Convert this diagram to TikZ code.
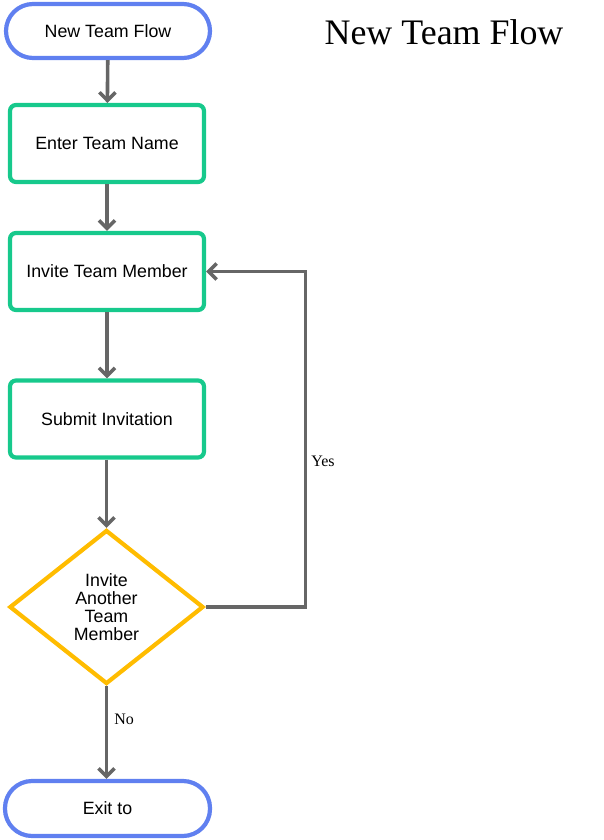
\documentclass[tikz,border=0pt]{standalone}
\usepackage{fontspec}
\setmainfont{Liberation Sans}
\newfontfamily\serifx{Liberation Serif}
\usetikzlibrary{shapes.geometric,arrows.meta}
\definecolor{termblue}{HTML}{6080F0}
\definecolor{procgreen}{HTML}{17C98C}
\definecolor{decyellow}{HTML}{FFBC00}
\definecolor{arrgray}{HTML}{666666}
\tikzset{
  term/.style={draw=termblue, line width=4.2pt, rectangle, rounded corners=27pt, minimum width=204pt, minimum height=54pt, inner sep=0pt, font=\fontsize{17.8}{20}\selectfont, fill=white},
  proc/.style={draw=procgreen, line width=4.2pt, rectangle, rounded corners=6pt, minimum width=194pt, minimum height=77pt, inner sep=0pt, font=\fontsize{17.8}{20}\selectfont},
  dec/.style={draw=decyellow, line width=4.2pt, diamond, minimum width=194pt, minimum height=154pt, inner sep=0pt, align=center, font=\fontsize{17.8}{18}\selectfont},
  arr/.style={draw=arrgray, line width=3.6pt, -{Straight Barb[length=8pt,width=16pt,line width=3.6pt]}},
  lbl/.style={font=\serifx\fontsize{16}{18}\selectfont, inner sep=2pt},
}
\begin{document}
\begin{tikzpicture}[x=1pt,y=-1pt]
\useasboundingbox (0,0) rectangle (603,840);
\node[term] (start) at (108,31) {New Team Flow};
\node[proc] (enter) at (107,143.5) {Enter Team Name};
\node[proc] (invite) at (107,271.5) {Invite Team Member};
\node[proc] (submit) at (107,419) {Submit Invitation};
\node[dec] (dia) at (106.5,607) {Invite\\Another\\Team\\Member};
\node[term, minimum width=205pt, minimum height=55pt] (exit) at (107.5,808.5) {Exit to};
\node[font=\serifx\fontsize{35.9}{40}\selectfont, inner sep=0pt] (title) at (444,32) {New Team Flow};
\draw[arr] (start) -- (enter);
\draw[arr] (enter) -- (invite);
\draw[arr] (invite) -- (submit);
\draw[arr] (submit.south -| dia.north) -- (dia.north);
\draw[arr] (dia.south) -- node[lbl, pos=0.36, right=4pt] (no) {No} (exit.north -| dia.south);
\draw[arr] (dia.east) -- ++(100,0) |- node[lbl, pos=0.217, right=2pt] (yes) {Yes} (invite.east);
\end{tikzpicture}
\end{document}
